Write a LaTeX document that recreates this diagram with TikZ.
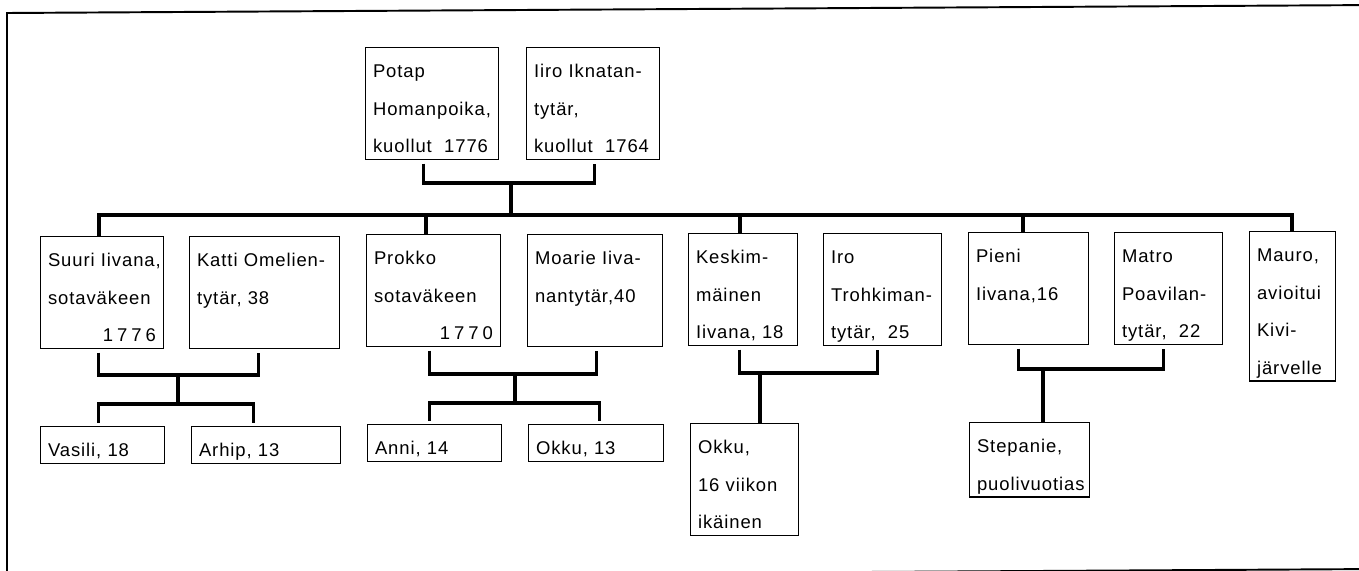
\documentclass[tikz,border=0pt]{standalone}
\usepackage{fontspec}
\setmainfont{Liberation Sans}[LetterSpace=5]
\usepackage{tikz}

\newcommand{\toright}{\hspace*{0pt plus 1filll}}
\newcommand{\wide}[1]{{\addfontfeatures{LetterSpace=22}#1}}

\begin{document}
\begin{tikzpicture}[x=0.02cm, y=-0.02cm,
  person/.style={draw, line width=0.6pt, anchor=north west, inner xsep=0.15cm, inner ysep=0pt,
    align=left, font=\fontsize{10.5}{21.34}\selectfont,
    execute at begin node={\hyphenpenalty=10000\rule{0pt}{0.6cm}},
    execute at end node={\rule[-0.14cm]{0pt}{0.14cm}}},
  conn/.style={line width=1.8pt},
  tie/.style={conn, shorten <=0.07cm, shorten >=0.07cm}]
\useasboundingbox (0,0) rectangle (1359,571);
\draw[line width=1.1pt] (7,577) -- (7,13) -- (1380,5) -- (1380,569) -- cycle;

\node[person, text width=2.36cm] (potap) at (365,47) {Potap\\Homanpoika,\\kuollut~~1776};
\node[person, text width=2.36cm] (iiro) at (526,47) {Iiro~Iknatan-\\tytär,\\kuollut~~1764};

\node[person, text width=2.16cm] (suuri) at (40,236) {Suuri~Iivana,\\sotaväkeen\\\toright\wide{1776}};
\node[person, text width=2.70cm] (katti) at (189,236) {Katti~Omelien-\\tytär,~38\\~};
\node[person, text width=2.38cm] (prokko) at (366,234) {Prokko\\sotaväkeen\\\toright\wide{1770}};
\node[person, text width=2.40cm] (moarie) at (527,234) {Moarie~Iiva-\\nantytär,40\\~};
\node[person, text width=1.88cm] (keskim) at (688,233) {Keskim-\\mäinen\\Iivana,~18};
\node[person, text width=2.06cm] (iro) at (823,233) {Iro\\Trohkiman-\\tytär,~~25};
\node[person, text width=2.10cm] (pieni) at (968,232) {Pieni\\Iivana,16\\~};
\node[person, text width=1.86cm] (matro) at (1114,232) {Matro\\Poavilan-\\tytär,~~22};
\node[person, text width=1.42cm] (mauro) at (1249,231) {Mauro,\\avioitui\\Kivi-\\järvelle};

\node[person, text width=2.18cm] (vasili) at (40,426) {Vasili,~18};
\node[person, text width=2.68cm] (arhip) at (191,426) {Arhip,~13};
\node[person, text width=2.38cm] (anni) at (367,424) {Anni,~14};
\node[person, text width=2.40cm] (okkua) at (528,424) {Okku,~13};
\node[person, text width=1.86cm] (okkub) at (690,423) {Okku,\\16~viikon\\ikäinen};
\node[person, text width=2.10cm] (stepanie) at (969,422) {Stepanie,\\puolivuotias};

\coordinate (p0) at (511,183);
\coordinate (top) at (511,215);
\coordinate (busl) at (99,215);
\coordinate (busr) at (1292,215);
\coordinate (bus2) at (426,215);
\coordinate (bus3) at (740,215);
\coordinate (bus4) at (1023,215);
\coordinate (c1) at (178,375);
\coordinate (k1) at (178,404);
\coordinate (c2) at (515,374);
\coordinate (k2) at (515,403);
\coordinate (c3) at (760,373);
\coordinate (c4) at (1043,369);

% vanhemmat
\draw[tie] ([xshift=-0.17cm]potap.south) |- (p0) -| ([xshift=0.03cm]iiro.south);
\draw[conn] (p0) -- (top);
\draw[conn] (busl |- suuri.north) -- (busl) -- (busr) -- (busr |- mauro.north);
\foreach \b/\n in {bus2/prokko, bus3/keskim, bus4/pieni}
  \draw[conn] (\b) -- (\b |- \n.north);

% perheet
\draw[tie] ([xshift=-0.07cm]suuri.south) |- (c1) -| ([xshift=-0.12cm]katti.south);
\draw[conn] (c1) -- (k1);
\draw[tie] ([xshift=-0.08cm]vasili.north) |- (k1) -| ([xshift=-0.25cm]arhip.north);

\draw[tie] ([xshift=-0.08cm]prokko.south) |- (c2) -| ([xshift=0.03cm]moarie.south);
\draw[conn] (c2) -- (k2);
\draw[tie] ([xshift=-0.1cm]anni.north) |- (k2) -| ([xshift=0.07cm]okkua.north);

\draw[tie] ([xshift=-0.07cm]keskim.south) |- (c3) -| ([xshift=-0.1cm]iro.south);
\draw[conn] (c3) -- (c3 |- okkub.north);

\draw[tie] ([xshift=-0.2cm]pieni.south) |- (c4) -| ([xshift=-0.1cm]matro.south);
\draw[conn] (c4) -- (c4 |- stepanie.north);
\end{tikzpicture}
\end{document}
